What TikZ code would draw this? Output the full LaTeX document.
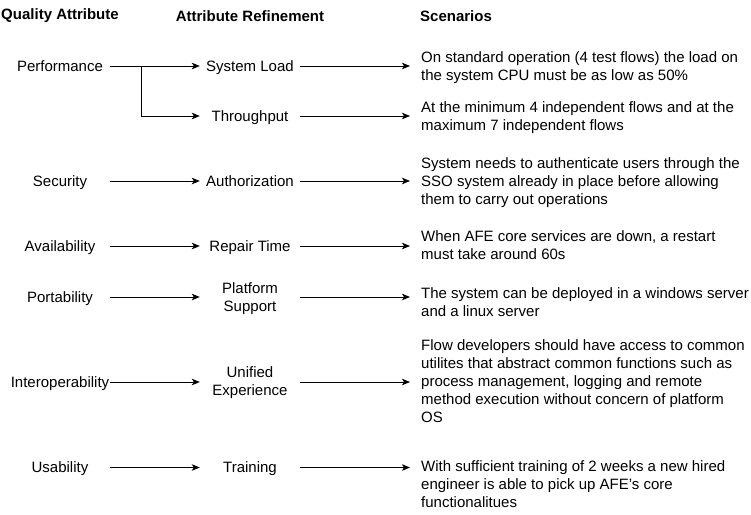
\documentclass[tikz,border=0pt]{standalone}
\usepackage{fontspec}
\setmainfont{Liberation Sans}
\usetikzlibrary{arrows.meta}
\begin{document}
\begin{tikzpicture}[x=1pt,y=-1pt,
  font=\fontsize{15}{18}\selectfont,
  head/.style={font=\fontsize{15}{18}\selectfont\bfseries, inner sep=0},
  % single-line labels: box centred on the capital letters
  oneline/.style={minimum width=100pt, inner sep=0, text height=10.7pt, text depth=0pt},
  % multi-line labels: struts give every box the same top and bottom
  twoline/.style={minimum width=100pt, inner sep=0, align=center,
    execute at begin node=\strut, execute at end node=\strut},
  scen/.style={anchor=west, inner xsep=11pt, inner ysep=0, align=left,
    execute at begin node=\strut, execute at end node=\strut},
  arr/.style={draw=black, line width=1pt, -{Stealth[length=8pt,width=6.5pt,inset=2pt]}}]
\useasboundingbox (0,0) rectangle (751,514);

% column headers
\node[head] (h1) at (60,16) {Quality Attribute};
\node[head] (h2) at (250,16) {Attribute Refinement};
\node[head, anchor=west] (h3) at (420,16) {Scenarios};

% quality attributes
\node[oneline] (perf) at (60,66) {Performance};
\node[oneline] (sec) at (60,181) {Security};
\node[oneline] (avail) at (60,246) {Availability};
\node[oneline] (port) at (60,297) {Portability};
\node[oneline] (inter) at (60,382) {Interoperability};
\node[oneline] (usab) at (60,467.5) {Usability};

% refinements
\node[oneline] (load) at (250,66) {System Load};
\node[oneline] (thr) at (250,116) {Throughput};
\node[oneline] (auth) at (250,181) {Authorization};
\node[oneline] (rep) at (250,246) {Repair Time};
\node[twoline] (plat) at (250,299.75) {Platform\\Support};
\node[twoline] (uni) at (250,383.75) {Unified\\Experience};
\node[oneline] (train) at (250,467.5) {Training};

% scenarios
\node[scen] (s1) at (410,68.5) {On standard operation (4 test flows) the load on\\the system CPU must be as low as 50\%};
\node[scen] (s2) at (410,119) {At the minimum 4 independent flows and at the\\maximum 7 independent flows};
\node[scen] (s3) at (410,183.75) {System needs to authenticate users through the\\SSO system already in place before allowing\\them to carry out operations};
\node[scen] (s4) at (410,248.25) {When AFE core services are down, a restart\\must take around 60s};
\node[scen] (s5) at (410,305) {The system can be deployed in a windows server\\and a linux server};
\node[scen] (s6) at (410,383.4) {Flow developers should have access to common\\utilites that abstract common functions such as\\process management, logging and remote\\method execution without concern of platform\\OS};
\node[scen] (s7) at (410,486.75) {With sufficient training of 2 weeks a new hired\\engineer is able to pick up AFE's core\\functionalitues};

% attribute -> refinement
\coordinate (br) at (141,66);
\draw[arr] (perf.east) -- (perf.east -| load.west);
\draw[arr] (br) |- (thr.west);
\draw[arr] (sec.east) -- (sec.east -| auth.west);
\draw[arr] (avail.east) -- (avail.east -| rep.west);
\draw[arr] (port.east) -- (port.east -| plat.west);
\draw[arr] (inter.east) -- (inter.east -| uni.west);
\draw[arr] (usab.east) -- (usab.east -| train.west);

% refinement -> scenario
\draw[arr] (load.east) -- (load.east -| s1.west);
\draw[arr] (thr.east) -- (thr.east -| s2.west);
\draw[arr] (auth.east) -- (auth.east -| s3.west);
\draw[arr] (rep.east) -- (rep.east -| s4.west);
\draw[arr] (plat.east |- port.east) -- (port.east -| s5.west);
\draw[arr] (uni.east |- inter.east) -- (inter.east -| s6.west);
\draw[arr] (train.east) -- (train.east -| s7.west);
\end{tikzpicture}
\end{document}
